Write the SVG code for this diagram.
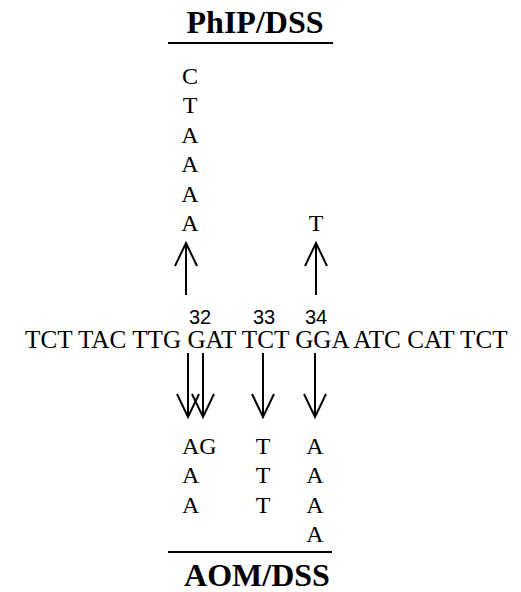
<svg xmlns="http://www.w3.org/2000/svg" width="521" height="592" viewBox="0 0 521 592">
  <style>
    .t { font-family: "Liberation Serif", "Times New Roman", serif; font-size: 24px; fill: #000; }
    .seq { font-size: 25.2px; }
    .title { font-family: "Liberation Serif", "Times New Roman", serif; font-weight: bold; fill: #000; }
    .num { font-family: "Liberation Sans", Arial, sans-serif; font-size: 20px; fill: #000; }
    .c { text-anchor: middle; }
    .rule { stroke: #000; stroke-width: 2; }
    .arr { stroke: #000; stroke-width: 2; fill: none; marker-end: url(#ah); }
  </style>
  <defs>
    <marker id="ah" viewBox="-25 -13 27 26" markerWidth="27" markerHeight="26" refX="0" refY="0" orient="auto" markerUnits="userSpaceOnUse">
      <path d="M-23,-11 L0,0 L-23,11" fill="none" stroke="#000" stroke-width="2"/>
    </marker>
  </defs>

  <g id="phip-header">
    <text class="title c" x="255" y="33" font-size="32">PhIP/DSS</text>
    <line class="rule" x1="168" y1="43" x2="333" y2="43"/>
  </g>

  <g id="phip-col32">
    <text class="t c" x="190" y="84">C</text>
    <text class="t c" x="190" y="113">T</text>
    <text class="t c" x="190" y="143">A</text>
    <text class="t c" x="190" y="172">A</text>
    <text class="t c" x="190" y="202">A</text>
    <text class="t c" x="190" y="231">A</text>
  </g>
  <g id="phip-col34">
    <text class="t c" x="316" y="231">T</text>
  </g>

  <g id="codon-numbers">
    <text class="num c" x="200" y="324">32</text>
    <text class="num c" x="264" y="324">33</text>
    <text class="num c" x="316" y="324">34</text>
  </g>

  <g id="sequence">
    <text class="t seq" x="25" y="348">TCT TAC TTG GAT TCT GGA ATC CAT TCT</text>
  </g>

  <g id="connectors">
    <line class="arr" x1="186" y1="295" x2="186" y2="243"/>
    <line class="arr" x1="316" y1="295" x2="316" y2="243"/>
    <line class="arr" x1="188" y1="353" x2="188" y2="417"/>
    <line class="arr" x1="203" y1="353" x2="203" y2="417"/>
    <line class="arr" x1="263" y1="353" x2="263" y2="417"/>
    <line class="arr" x1="315" y1="353" x2="315" y2="417"/>
  </g>

  <g id="aom-col32">
    <text class="t" x="182" y="454">AG</text>
    <text class="t" x="182" y="483">A</text>
    <text class="t" x="182" y="513">A</text>
  </g>
  <g id="aom-col33">
    <text class="t c" x="263" y="454">T</text>
    <text class="t c" x="263" y="483">T</text>
    <text class="t c" x="263" y="513">T</text>
  </g>
  <g id="aom-col34">
    <text class="t c" x="315" y="454">A</text>
    <text class="t c" x="315" y="483">A</text>
    <text class="t c" x="315" y="513">A</text>
    <text class="t c" x="315" y="542">A</text>
  </g>

  <g id="aom-header">
    <line class="rule" x1="168" y1="552" x2="332" y2="552"/>
    <text class="title c" x="257" y="586" font-size="32">AOM/DSS</text>
  </g>
</svg>
